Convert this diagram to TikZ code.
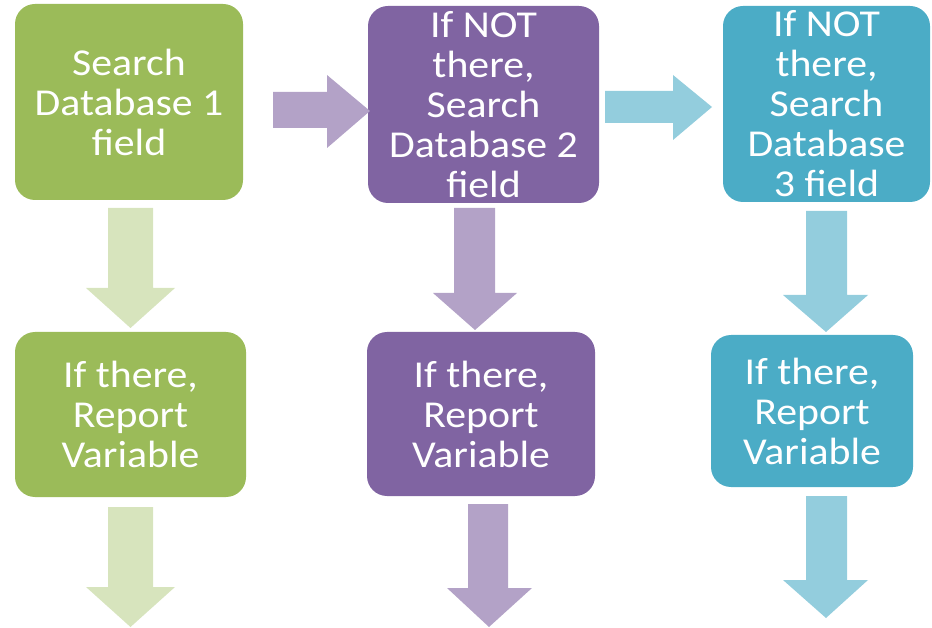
\documentclass[tikz,border=0pt]{standalone}
\usepackage{fontspec}
\setmainfont[FakeStretch=1.1]{Carlito}
\definecolor{cg}{HTML}{9BBB59}
\definecolor{cp}{HTML}{8064A2}
\definecolor{ct}{HTML}{4BACC6}
\definecolor{lg}{HTML}{D7E4BD}
\definecolor{lp}{HTML}{B3A2C7}
\definecolor{lt}{HTML}{93CDDD}
\begin{document}
\begin{tikzpicture}[x=1pt,y=-1pt,
  box/.style={rounded corners=20pt, inner sep=0pt, align=center, text=white,
    font=\fontsize{38}{40}\selectfont},
  blockarrow/.style={draw=none}]
\useasboundingbox (0,0) rectangle (932,628);
% top boxes
\node[box, fill=cg, minimum width=228pt, minimum height=196pt] (g1) at (129,102) {Search\\Database 1\\field};
\node[box, fill=cp, minimum width=231pt, minimum height=197pt] (p1) at (483.5,104.5) {If NOT\\there,\\Search\\Database 2\\field};
\node[box, fill=ct, minimum width=207pt, minimum height=196pt] (t1) at (826.5,104) {If NOT\\there,\\Search\\Database\\3 field};
% bottom boxes
\node[box, fill=cg, minimum width=231pt, minimum height=165pt] (g2) at (130.5,414.5) {If there,\\Report\\Variable};
\node[box, fill=cp, minimum width=228pt, minimum height=164pt] (p2) at (481,414) {If there,\\Report\\Variable};
\node[box, fill=ct, minimum width=202pt, minimum height=152pt] (t2) at (812,411) {If there,\\Report\\Variable};
% horizontal block arrows
\fill[lp] (273,92) -- (327,92) -- (327,75) -- (370,111) -- (327,148) -- (327,128) -- (273,128) -- cycle;
\fill[lt] (605,91) -- (673,91) -- (673,75) -- (712,107) -- (673,140) -- (673,123) -- (605,123) -- cycle;
% vertical block arrows
\fill[lg] (108,208) -- (153,208) -- (153,288) -- (175,288) -- (130.5,328) -- (86,288) -- (108,288) -- cycle;
\fill[lg] (108,507) -- (153,507) -- (153,587) -- (175,587) -- (130.5,627) -- (86,587) -- (108,587) -- cycle;
\fill[lp] (454,208) -- (495,208) -- (495,293) -- (517,293) -- (475,330) -- (433,293) -- (454,293) -- cycle;
\fill[lp] (468,504) -- (508,504) -- (508,588) -- (532,588) -- (489,627) -- (447,588) -- (468,588) -- cycle;
\fill[lt] (806,211) -- (847,211) -- (847,295) -- (868,295) -- (826,332) -- (783,295) -- (806,295) -- cycle;
\fill[lt] (806,496) -- (847,496) -- (847,580) -- (868,580) -- (826,618) -- (783,580) -- (806,580) -- cycle;
\end{tikzpicture}
\end{document}
